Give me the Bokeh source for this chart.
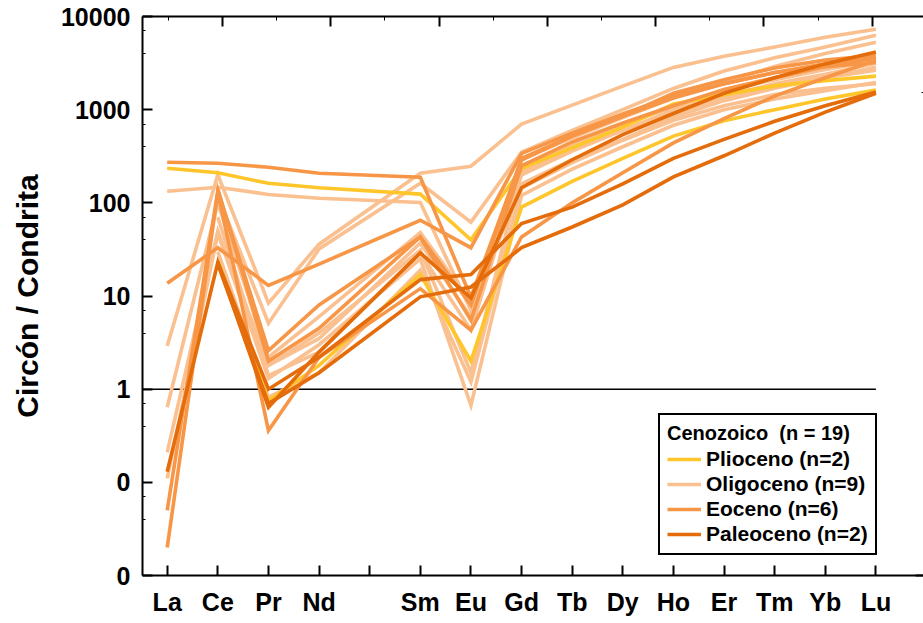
from bokeh.plotting import figure
from bokeh.models import Range1d, LinearAxis, FixedTicker, Legend, LegendItem
from bokeh.embed import file_html
from bokeh.resources import INLINE

nan = float("nan")

# ---- categories / ticks ----
elements = ["La", "Ce", "Pr", "Nd", "Sm", "Eu", "Gd", "Tb", "Dy", "Ho", "Er", "Tm", "Yb", "Lu"]
element_pos = [1, 2, 3, 4, 6, 7, 8, 9, 10, 11, 12, 13, 14, 15]
x_tick_pos = [1, 2, 3, 4, 5, 6, 7, 8, 9, 10, 11, 12, 13, 14, 15]
x_tick_labels = ["La", "Ce", "Pr", "Nd", "", "Sm", "Eu", "Gd", "Tb", "Dy", "Ho", "Er", "Tm", "Yb", "Lu"]
y_ticks = [0.01, 0.1, 1, 10, 100, 1000, 10000]
y_tick_labels = ["0", "0", "1", "10", "100", "1000", "10000"]
y_minor = [0.04, 0.07, 0.4, 0.7, 4, 7, 40, 70, 400, 700, 4000, 7000]
ref_level = 1

# ---- series (Circón / Condrita) ----
plioceno = [
    [235, 210, 162, 145, 124, 40, 235, 390, 650, 1150, 1450, 1800, 2050, 2290],
    [nan, 24, 0.75, 1.8, 17, 2.0, 90, 170, 300, 520, 760, 1000, 1300, 1620],
]
oligoceno = [
    [133, 147, 123, 112, 101, 7, 160, 290, 480, 830, 1250, 1700, 2200, 2850],
    [2.9, 200, 8.4, 36, 208, 247, 700, 1120, 1790, 2840, 3740, 4700, 6000, 7300],
    [nan, 120, 5.1, 32, 162, 62, 350, 600, 1000, 1690, 2600, 3600, 4700, 6300],
    [0.64, 100, 2.2, 6, 48, 8.6, 290, 500, 820, 1330, 2000, 2900, 4000, 5300],
    [0.21, 50, 1.8, 4, 31, 1.5, 215, 380, 600, 990, 1400, 1900, 2400, 3150],
    [0.11, 47, 1.3, 3, 25, 0.67, 120, 230, 400, 680, 1000, 1300, 1600, 1960],
    [nan, 30, 0.82, 1.5, 19, 1.2, 145, 270, 470, 770, 1100, 1450, 1700, 1900],
    [nan, 70, 1.4, 2.5, 29, 4.3, 250, 420, 700, 1060, 1600, 2100, 2700, 3380],
    [nan, 140, 1.8, 3.5, 37, 5.9, 200, 360, 600, 910, 1300, 1800, 2200, 2650],
]
eoceno = [
    [273, 266, 241, 208, 188, 9.7, 290, 520, 850, 1500, 2100, 2800, 3400, 3830],
    [13.7, 33, 13, 22, 65, 33, 340, 560, 900, 1400, 1900, 2500, 3100, 3560],
    [0.05, 135, 2.6, 8, 43, 5.5, 250, 450, 720, 1100, 1650, 2200, 2900, 3650],
    [0.02, 130, 0.36, 2.2, 12, 4.3, 43, 100, 210, 440, 800, 1400, 2200, 3380],
    [nan, 140, 2.0, 4.5, 43, 8, 300, 520, 850, 1330, 1900, 2500, 2900, 3220],
]
paleoceno = [
    [0.13, 23, 0.64, 2.5, 29, 9.5, 145, 290, 540, 910, 1500, 2200, 3100, 4150],
    [nan, 23, 1.0, 2.2, 15, 17, 60, 90, 160, 300, 480, 750, 1100, 1550],
    [nan, 22, 0.7, 1.5, 9.8, 12.5, 33, 55, 95, 190, 320, 560, 940, 1500],
]

groups = [
    ("Plioceno (n=2)", plioceno, "#FFC62B"),
    ("Oligoceno (n=9)", oligoceno, "#FAC090"),
    ("Eoceno (n=6)", eoceno, "#F79646"),
    ("Paleoceno (n=2)", paleoceno, "#E46C0A"),
]
legend_title = "Cenozoico  (n = 19)"

FONT = "Liberation Sans"
x_start, x_end = 0.512, 15.94

p = figure(width=923, height=623, output_backend="svg", toolbar_location=None,
           x_range=Range1d(x_start, x_end), y_range=Range1d(0.01, 10000),
           y_axis_type="log",
           min_border_left=142, min_border_top=16, min_border_bottom=48, min_border_right=0)
p.outline_line_color = None
p.grid.visible = False
p.background_fill_color = "white"
p.border_fill_color = "white"

# reference line at 1
p.line(x=[x_start, element_pos[-1]], y=[ref_level, ref_level], line_color="black", line_width=1.5)

legend_items = []
order = [1, 0, 2, 3]
renderers = {}
for gi in order:
    label, series, color = groups[gi]
    rs = []
    for vals in series:
        r = p.line(x=element_pos, y=vals, line_color=color, line_width=3.6, line_join="miter")
        rs.append(r)
    renderers[gi] = rs
for gi in range(4):
    legend_items.append(LegendItem(label=groups[gi][0], renderers=[renderers[gi][0]]))

# bottom axis
xa = p.xaxis[0]
xa.ticker = FixedTicker(ticks=x_tick_pos, minor_ticks=[])
xa.major_label_overrides = {t: l for t, l in zip(x_tick_pos, x_tick_labels)}
xa.major_tick_in = 10
xa.major_tick_out = 0
xa.minor_tick_line_color = None
xa.major_label_standoff = 12
xa.major_label_text_font = FONT
xa.major_label_text_font_style = "bold"
xa.major_label_text_font_size = "25px"
xa.major_label_text_color = "black"
xa.axis_line_width = 2
xa.major_tick_line_width = 2

# left axis
ya = p.yaxis[0]
ya.ticker = FixedTicker(ticks=y_ticks, minor_ticks=y_minor)
ya.major_label_overrides = {t: l for t, l in zip(y_ticks, y_tick_labels)}
ya.major_tick_in = 10
ya.major_tick_out = 0
ya.minor_tick_in = 3
ya.minor_tick_out = 0
ya.major_label_standoff = 12
ya.major_label_text_font = FONT
ya.major_label_text_font_style = "bold"
ya.major_label_text_font_size = "25px"
ya.major_label_text_color = "black"
ya.axis_label = "Circón / Condrita"
ya.axis_label_text_font = FONT
ya.axis_label_text_font_style = "bold"
ya.axis_label_text_font_size = "30px"
ya.axis_label_text_color = "black"
ya.axis_label_standoff = 14
ya.axis_line_width = 2
ya.major_tick_line_width = 2

# top axis (independent scale, ticks only)
top_major = [0, 1, 2, 3, 4, 5, 6]
top_minor = [-0.5, 0.5, 1.5, 2.5, 3.5, 4.5, 5.5, 6.5]
p.extra_x_ranges = {"top": Range1d(-0.739, 6.473)}
top = LinearAxis(x_range_name="top",
                 ticker=FixedTicker(ticks=top_major, minor_ticks=top_minor),
                 major_label_overrides={t: "" for t in top_major},
                 major_label_text_font_size="1px", major_label_standoff=0,
                 major_tick_in=10, major_tick_out=0, minor_tick_in=4, minor_tick_out=0,
                 axis_line_width=2, major_tick_line_width=2)
p.add_layout(top, "above")

# right axis (ticks only)
right_major = [0, 1]
p.extra_y_ranges = {"right": Range1d(-1.10, 1.736)}
right = LinearAxis(y_range_name="right",
                   ticker=FixedTicker(ticks=right_major, minor_ticks=[-0.39, -0.155, 0.61, 0.845, 1.61]),
                   major_label_overrides={t: "" for t in right_major},
                   major_label_text_font_size="1px", major_label_standoff=0,
                   axis_line_color=None,
                   major_tick_in=8, major_tick_out=0, minor_tick_in=2, minor_tick_out=0,
                   major_tick_line_width=2)
p.add_layout(right, "right")

legend = Legend(items=legend_items, title=legend_title, location=(516, 20))
legend.title_text_font = FONT
legend.title_text_font_style = "bold"
legend.title_text_font_size = "20px"
legend.title_text_color = "black"
legend.title_standoff = 2
legend.label_text_font = FONT
legend.label_text_font_style = "bold"
legend.label_text_font_size = "21px"
legend.label_text_color = "black"
legend.label_height = 20
legend.glyph_height = 20
legend.glyph_width = 34
legend.label_standoff = 5
legend.spacing = 1
legend.padding = 7
legend.margin = 0
legend.border_line_color = "black"
legend.border_line_alpha = 1
legend.border_line_width = 2.5
legend.background_fill_color = "white"
legend.background_fill_alpha = 1
p.add_layout(legend)

open("out.html", "w").write(file_html(p, INLINE))
